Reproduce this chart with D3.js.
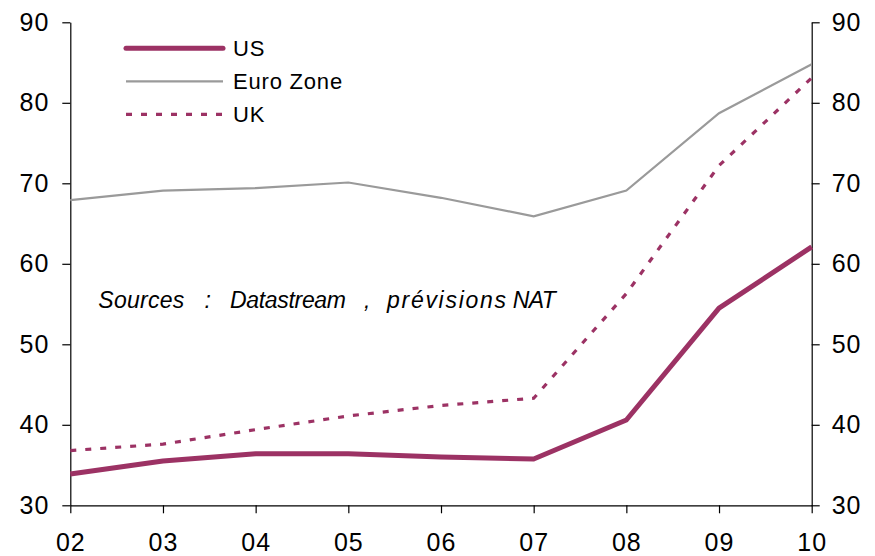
<!DOCTYPE html>
<html>
<head>
<meta charset="utf-8">
<script src="https://cdn.jsdelivr.net/npm/d3@7"></script>
<style>
  html, body { margin: 0; padding: 0; background: #fff; }
  svg { display: block; font-family: "Liberation Sans", Arial, sans-serif; }
</style>
</head>
<body>
<svg id="chart" width="875" height="556"></svg>
<script>
// Years on the horizontal axis (two-digit labels)
const years = ["02", "03", "04", "05", "06", "07", "08", "09", "10"];

// Public debt, % of GDP
const usValues   = [33.9, 35.5, 36.4, 36.4, 36.0, 35.75, 40.6, 54.5, 62.1];
const euroValues = [67.9, 69.1, 69.4, 70.1, 68.2, 65.9, 69.1, 78.7, 84.8];
const ukValues   = [36.8, 37.6, 39.4, 41.1, 42.4, 43.3, 56.3, 72.2, 83.1];

const yTicks = [30, 40, 50, 60, 70, 80, 90];

const seriesNames = ["US", "Euro Zone", "UK"];
// Source note, written in words spread across the plot
const sourceWords = ["Sources", ":", "Datastream", ",", "prévisions", "NAT"];

const svg = d3.select("#chart");
const plotLeft = 70.3, plotRight = 811.7, plotTop = 22.3, plotBottom = 505.3;

const x = d3.scalePoint().domain(years).range([plotLeft, plotRight]);
const y = d3.scaleLinear().domain([30, 90]).range([plotBottom, plotTop]);

const maroon = "#9c3264";
const grey = "#9a9a9a";

// Axes
const tickFont = "25px";
function styleAxis(g) {
  g.selectAll(".domain").attr("stroke", "#000").attr("stroke-width", 1.2);
  g.selectAll(".tick line").attr("stroke", "#000").attr("stroke-width", 1.2);
  g.selectAll(".tick text")
    .attr("fill", "#000")
    .style("font-size", tickFont)
    .style("letter-spacing", "1px")
    .style("font-family", "'Liberation Sans', Arial, sans-serif");
}

svg.append("g")
  .attr("transform", `translate(${plotLeft},0)`)
  .call(d3.axisLeft(y).tickValues(yTicks).tickSize(8).tickSizeOuter(0).tickPadding(13))
  .call(styleAxis);

svg.append("g")
  .attr("transform", `translate(${plotRight},0)`)
  .call(d3.axisRight(y).tickValues(yTicks).tickSize(8).tickSizeOuter(0).tickPadding(12))
  .call(styleAxis);

svg.append("g")
  .attr("transform", `translate(0,${plotBottom})`)
  .call(d3.axisBottom(x).tickSize(8).tickSizeOuter(0).tickPadding(20))
  .call(styleAxis);

// Lines
const line = d3.line().x((d, i) => x(years[i])).y(d => y(d));

svg.append("path").datum(euroValues)
  .attr("d", line).attr("fill", "none")
  .attr("stroke", grey).attr("stroke-width", 2.2);

svg.append("path").datum(ukValues)
  .attr("d", line).attr("fill", "none")
  .attr("stroke", maroon).attr("stroke-width", 3.2)
  .attr("stroke-dasharray", "6,9");

svg.append("path").datum(usValues)
  .attr("d", line).attr("fill", "none")
  .attr("stroke", maroon).attr("stroke-width", 5)
  .attr("stroke-linejoin", "round");

// Legend
const legend = [
  { name: seriesNames[0], y: 48.3, color: maroon, width: 5, dash: null, cap: "round" },
  { name: seriesNames[1], y: 81.3, color: grey, width: 2.2, dash: null, cap: "butt" },
  { name: seriesNames[2], y: 114.3, color: maroon, width: 3.2, dash: "6,9", cap: "butt" }
];
const lg = svg.append("g");
legend.forEach(d => {
  lg.append("line")
    .attr("x1", 126).attr("x2", 223).attr("y1", d.y).attr("y2", d.y)
    .attr("stroke", d.color).attr("stroke-width", d.width)
    .attr("stroke-linecap", d.cap)
    .attr("stroke-dasharray", d.dash);
  lg.append("text")
    .attr("x", 233).attr("y", d.y + 7.5)
    .style("font-size", "22px")
    .style("letter-spacing", "0.8px")
    .attr("fill", "#000")
    .text(d.name);
});

// Source note: each word placed with its own start and fitted width
const wordLayout = [
  { x: 98.3, w: 86 },
  { x: 204.5, w: null },
  { x: 230, w: 116 },
  { x: 364, w: null },
  { x: 387, w: 119 },
  { x: 512.7, w: 43 }
];
const note = svg.append("text")
  .attr("y", 307.7)
  .attr("fill", "#000")
  .style("font-size", "23px")
  .style("font-style", "italic");
sourceWords.forEach((word, i) => {
  const t = note.append("tspan").attr("x", wordLayout[i].x).text(word);
  if (wordLayout[i].w) {
    t.attr("textLength", wordLayout[i].w).attr("lengthAdjust", "spacing");
  }
});
</script>
</body>
</html>
